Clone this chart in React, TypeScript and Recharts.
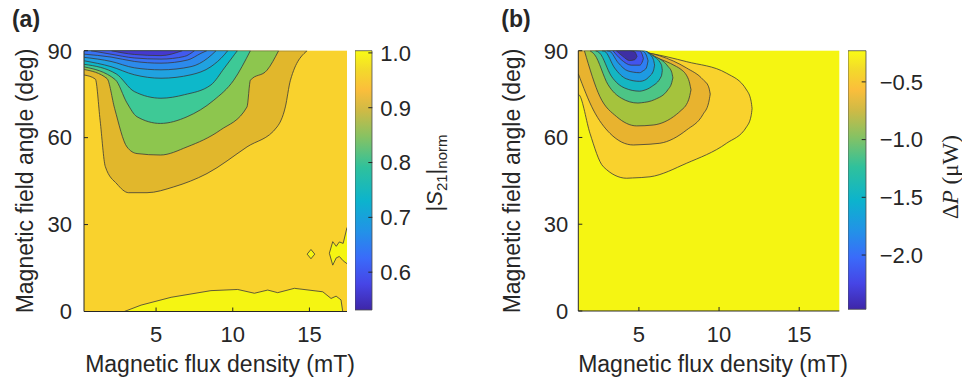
import React from "react";
import { ComposedChart, Area, XAxis, YAxis, CartesianGrid, BarChart, Bar } from "recharts";

type XY = [number, number];
type XLH = [number, number, number];

// (a) |S21|norm: contour lines [flux mT, angle deg]; the band above each line is filled
const aLine1: XY[] = [[0.32, 81.6], [1.04, 80.2], [1.35, 66], [1.69, 50], [2.45, 44], [3.21, 41], [4.41, 41], [6.15, 43], [8.32, 47.6], [10.93, 56.8], [12.89, 63.7], [13.43, 70.6], [13.76, 79.8], [14.85, 90]];
const aLine2: XY[] = [[0.32, 83.5], [1.8, 80.4], [2.3, 70], [3.1, 56.8], [3.76, 54.5], [5.28, 54], [7.02, 56.8], [9.19, 62.6], [10.93, 70.6], [11.15, 79.8], [12.24, 83.3], [12.99, 90]];
const aLine3: XY[] = [[0.32, 84.4], [2.34, 80], [3.1, 72], [3.76, 67.2], [5.28, 64.9], [7.02, 67.2], [8.76, 72.9], [10.06, 79.8], [11.15, 90]];
const aLine4: XY[] = [[0.32, 85.3], [2.4, 82], [3.58, 75.9], [5.32, 73.6], [6.84, 74.8], [8.58, 78.2], [9.45, 84], [10.1, 88.6], [10.3, 90]];
const aLine5: XY[] = [[0.32, 86.5], [2.06, 84.5], [3.58, 81.7], [5.32, 80.5], [7.28, 81.7], [8.58, 84.5], [9.45, 88.6], [9.67, 90]];
const aLine6: XY[] = [[0.32, 87.7], [2.06, 86.3], [3.58, 84.1], [5.32, 83.4], [7.28, 84.5], [8.36, 87.4], [8.91, 90]];
const aLine7: XY[] = [[0.32, 88.8], [2.06, 87.8], [3.58, 86.3], [5.32, 85.7], [7.06, 86.8], [7.93, 89.1], [8.3, 90]];
const aLine8: XY[] = [[0.76, 90], [2.06, 88.8], [3.58, 87.5], [5.32, 87.1], [6.84, 88], [7.5, 90]];
const aLine9: XY[] = [[2.1, 90], [3.58, 88.7], [5.32, 88.3], [6.7, 90]];
// high-transmission strip near 0 deg (band below the line)
const aLow: XY[] = [[2.93, 0], [4.02, 2.2], [5.98, 4.9], [8.58, 7.2], [10.32, 7.6], [11.41, 6.3], [12.28, 7.4], [12.93, 6.5], [14.02, 8], [15.87, 6.8], [16.41, 4.5], [16.74, 5.3], [17.06, 4], [17.17, 0]];
const aDot: XLH[] = [[14.85, 19.8, 19.8], [15.1, 18.2, 21.4], [15.35, 19.8, 19.8]];
const aEdge: XLH[] = [[16.3, 20.1, 20.1], [16.52, 16, 24.1], [16.75, 18.5, 22.5], [16.95, 19, 24], [17.2, 17.5, 23.5], [17.45, 16.5, 29]];

// (b) ΔP: closed lobes [flux mT, lower angle, upper angle]
const bLobe1: XLH[] = [[1.22, 75, 90], [1.28, 74.7, 90], [1.95, 61.4, 90], [2.78, 49.9, 90], [4.24, 45.9, 90], [4.6, 46, 90], [5.69, 46.4, 89.1], [7.98, 51.1, 86.2], [10.47, 58, 82.2], [11.72, 63.7, 76.4], [12.0, 67.5, 72.5], [12.06, 70, 70]];
const bLobe2: XLH[] = [[1.22, 82, 90], [2.16, 69.5, 90], [3.2, 61.4, 90], [4.65, 57.4, 90], [5.07, 57.5, 89.7], [6.31, 58, 88.2], [7.98, 62.6, 84], [9.0, 68, 80], [9.35, 72, 77.5], [9.45, 75, 75]];
const bLobe3: XLH[] = [[1.6, 90, 90], [2.57, 74.1, 90], [3.61, 67.2, 90], [4.86, 64, 90], [5.89, 64.3, 88], [7.35, 68, 84.5], [7.56, 69, 83.8], [8.1, 73, 80], [8.25, 76.5, 76.5]];
const bLobe4: XLH[] = [[1.95, 90, 90], [2.24, 88.6, 90], [3.07, 78.3, 90], [3.9, 73.6, 90], [4.94, 71.9, 90], [5.15, 72, 90], [5.98, 73.1, 88.1], [6.81, 76.5, 84.6], [7.05, 79, 82.5], [7.12, 80.6, 80.6]];
const bLobe5: XLH[] = [[2.3, 90, 90], [2.55, 89.2, 90], [3.28, 81.2, 90], [4.11, 77.1, 90], [5.05, 76, 90], [5.25, 76.2, 90], [5.77, 77.5, 88.6], [6.4, 81.2, 85.2], [6.46, 83.2, 83.2]];
const bLobe6: XLH[] = [[2.7, 90, 90], [2.87, 89.8, 90], [3.49, 84, 90], [4.21, 80.3, 90], [5.05, 79.4, 90], [5.36, 79.8, 90], [5.67, 81.2, 88.8], [5.9, 83, 87], [5.98, 85, 85]];
const bLobe7: XLH[] = [[3.0, 90, 90], [3.18, 89.8, 90], [3.7, 85.9, 90], [4.32, 83, 90], [5.05, 82.4, 90], [5.25, 83, 89.8], [5.46, 84, 88.5], [5.57, 86.5, 86.5]];
const bLobe8: XLH[] = [[3.38, 90, 90], [3.9, 86.9, 90], [4.52, 85, 90], [5.05, 85, 89.9], [5.2, 86, 88.8], [5.28, 87.3, 87.3]];
const bLobe9: XLH[] = [[3.59, 90, 90], [4.01, 88, 90], [4.42, 86.6, 90], [4.74, 86.9, 89.6], [4.88, 88, 88]];

const angleTicks = [0, 30, 60, 90];
const fluxTicks = [5, 10, 15];
const cbATicks = [0.6, 0.7, 0.8, 0.9, 1.0];
const cbARange = [0.531, 1.004];
const cbBTicks = [-2.0, -1.5, -1.0, -0.5];
const cbBRange = [-2.47, -0.23];

const PARULA: [number, string][] = [
  [0, "#3E26A8"], [0.1, "#4645E6"], [0.2, "#3A6BFA"], [0.3, "#2391E8"], [0.42, "#0CB3CD"],
  [0.55, "#2FC19C"], [0.67, "#88C262"], [0.77, "#CFBA45"], [0.85, "#FBBE3B"], [0.93, "#F3DB2A"], [1, "#F9FB15"],
];

const INK = "#262626";
const LINE = "#3a3a3a";
const FONT = "'Liberation Sans', Arial, sans-serif";

const upTo90 = (pts: XY[]): XLH[] => pts.map(([x, y]) => [x, y, 90]);
const fromZero = (pts: XY[]): XLH[] => pts.map(([x, y]) => [x, 0, y]);

const aSeries = [
  { key: "a1", pts: upTo90(aLine1), fill: "#E1B72C", type: "monotone" },
  { key: "a2", pts: upTo90(aLine2), fill: "#8DC64E", type: "monotone" },
  { key: "a3", pts: upTo90(aLine3), fill: "#3EC996", type: "monotone" },
  { key: "a4", pts: upTo90(aLine4), fill: "#0DB8CA", type: "monotone" },
  { key: "a5", pts: upTo90(aLine5), fill: "#20A2E0", type: "monotone" },
  { key: "a6", pts: upTo90(aLine6), fill: "#2C8AEC", type: "monotone" },
  { key: "a7", pts: upTo90(aLine7), fill: "#3872F5", type: "monotone" },
  { key: "a8", pts: upTo90(aLine8), fill: "#425AF0", type: "monotone" },
  { key: "a9", pts: upTo90(aLine9), fill: "#4539CF", type: "monotone" },
  { key: "a10", pts: fromZero(aLow), fill: "#F5F512", type: "linear" },
  { key: "a11", pts: aDot, fill: "#F5F512", type: "linear" },
  { key: "a12", pts: aEdge, fill: "#F5F512", type: "linear" },
];

const bSeries = [
  { key: "b1", pts: bLobe1, fill: "#F9D22D", type: "monotone" },
  { key: "b2", pts: bLobe2, fill: "#E8B32F", type: "monotone" },
  { key: "b3", pts: bLobe3, fill: "#A5C33D", type: "monotone" },
  { key: "b4", pts: bLobe4, fill: "#4CC586", type: "monotone" },
  { key: "b5", pts: bLobe5, fill: "#14B6C2", type: "monotone" },
  { key: "b6", pts: bLobe6, fill: "#1E9AE2", type: "monotone" },
  { key: "b7", pts: bLobe7, fill: "#2E7EF2", type: "monotone" },
  { key: "b8", pts: bLobe8, fill: "#4254EE", type: "monotone" },
  { key: "b9", pts: bLobe9, fill: "#3E2FA4", type: "monotone" },
];

function mergeRows(series: { key: string; pts: XLH[] }[]) {
  const xs = [...new Set(series.flatMap((s) => s.pts.map((p) => p[0])))].sort((a, b) => a - b);
  return xs.map((x) => {
    const row: Record<string, unknown> = { x };
    series.forEach((s) => {
      const p = s.pts.find((q) => q[0] === x);
      row[s.key] = p ? [p[1], p[2]] : [null, null];
    });
    return row;
  });
}

const rowsA = mergeRows(aSeries);
const rowsB = mergeRows(bSeries);

const tickStyle = { fill: INK, fontSize: 22, fontFamily: FONT };

function Txt({ x, y, rot = 0, children, style }: any) {
  return (
    <div
      style={{
        position: "absolute", left: x, top: y, whiteSpace: "nowrap", lineHeight: "23px",
        fontSize: 23, color: INK, fontFamily: FONT,
        transform: `translate(-50%, -50%) rotate(${rot}deg)`, ...style,
      }}
    >
      {children}
    </div>
  );
}

function Panel({ rows, series, domain, bg, width, left, top, bottom, tickMarginY }: any) {
  return (
    <ComposedChart width={width} height={390} data={rows} margin={{ top, right: 8, bottom: 0, left: 0 }}>
      <CartesianGrid fill={bg} horizontal={false} vertical={false} stroke="none" />
      {series.map((s: any) => (
        <Area
          key={s.key}
          dataKey={s.key}
          type={s.type}
          fill={s.fill}
          fillOpacity={1}
          stroke={LINE}
          strokeWidth={0.8}
          connectNulls
          dot={false}
          activeDot={false}
          isAnimationActive={false}
        />
      ))}
      <XAxis dataKey="x" type="number" domain={domain} ticks={fluxTicks} allowDataOverflow height={bottom}
        tickSize={-4} tickMargin={19} stroke={INK} tick={tickStyle} />
      <XAxis xAxisId="top" orientation="top" type="number" domain={domain} ticks={fluxTicks} height={0}
        tickSize={-4} tick={false} stroke={INK} />
      <YAxis type="number" domain={[0, 90]} ticks={angleTicks} width={left} allowDataOverflow
        tickSize={-4} tickMargin={tickMarginY} stroke={INK} tick={tickStyle} />
      <YAxis yAxisId="right" orientation="right" type="number" domain={[0, 90]} ticks={angleTicks} width={0}
        tickSize={-4} tick={false} stroke={INK} />
    </ComposedChart>
  );
}

function ColorBar({ id, range, ticks, barW, top, bottom, margin, fmt }: any) {
  return (
    <BarChart width={barW + 70} height={390} data={[{ k: "c", v: range }]} barCategoryGap={0}
      margin={{ top, right: 0, bottom, left: 0 }}>
      <defs>
        <linearGradient id={id} x1="0" y1="1" x2="0" y2="0">
          {PARULA.map(([o, c]) => (
            <stop key={o} offset={o} stopColor={c} />
          ))}
        </linearGradient>
      </defs>
      <XAxis dataKey="k" hide />
      <YAxis orientation="right" type="number" domain={range} ticks={ticks} width={70} axisLine={false}
        tickSize={-4} tickMargin={margin} stroke={INK} tick={tickStyle} tickFormatter={fmt} />
      <Bar dataKey="v" fill={`url(#${id})`} stroke="#4d4d4d" strokeWidth={0.8} isAnimationActive={false} />
    </BarChart>
  );
}

export default function App() {
  return (
    <div style={{ position: "absolute", left: 0, top: 0, width: 962, height: 390, background: "#fff", fontFamily: FONT }}>
      <div style={{ position: "absolute", left: 0, top: 0 }}>
        <Panel rows={rowsA} series={aSeries} domain={[0.3, 17.45]} bg="#F9D22D" width={355}
          left={84} top={50.7} bottom={78.5} tickMarginY={16} />
      </div>
      <div style={{ position: "absolute", left: 355, top: 0 }}>
        <ColorBar id="parA" range={cbARange} ticks={cbATicks} barW={17.3} top={50.7} bottom={80}
          margin={12} fmt={(v: number) => v.toFixed(1)} />
      </div>
      <div style={{ position: "absolute", left: 494, top: 0 }}>
        <Panel rows={rowsB} series={bSeries} domain={[1.22, 17.5]} bg="#F5F512" width={353.3}
          left={84.3} top={50.7} bottom={79} tickMarginY={14} />
      </div>
      <div style={{ position: "absolute", left: 848.3, top: 0 }}>
        <ColorBar id="parB" range={cbBRange} ticks={cbBTicks} barW={17.7} top={50.7} bottom={80.7}
          margin={18} fmt={(v: number) => `\u2212${Math.abs(v).toFixed(1)}`} />
      </div>

      <Txt x={26} y={19} style={{ fontWeight: 700 }}>(a)</Txt>
      <Txt x={516} y={19} style={{ fontWeight: 700 }}>(b)</Txt>
      <Txt x={25} y={181} rot={-90}>Magnetic field angle (deg)</Txt>
      <Txt x={512} y={181} rot={-90}>Magnetic field angle (deg)</Txt>
      <Txt x={220} y={363.5}>Magnetic flux density (mT)</Txt>
      <Txt x={713} y={363.5}>Magnetic flux density (mT)</Txt>
      <Txt x={438} y={173} rot={-90} style={{ fontSize: 22 }}>
        |<i>S</i><sub style={{ fontSize: 15 }}>21</sub>|<sub style={{ fontSize: 15 }}>norm</sub>
      </Txt>
      <Txt x={950} y={177} rot={-90} style={{ fontFamily: "'Liberation Serif', 'DejaVu Serif', serif", fontSize: 23 }}>
        Δ<i>P</i> (μW)
      </Txt>
    </div>
  );
}
